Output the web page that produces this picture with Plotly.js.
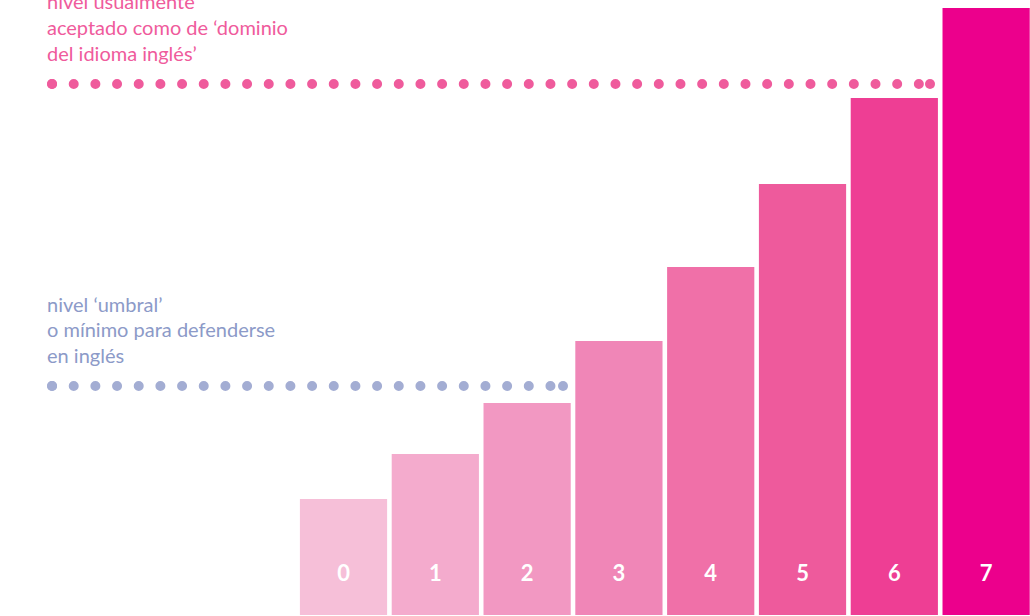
<!DOCTYPE html>
<html>
<head>
<meta charset="utf-8">
<script src="https://cdn.plot.ly/plotly-3.0.1.min.js"></script>
<style>
html,body{margin:0;padding:0;background:#fff;}
#chart{width:1030px;height:616px;}
.js-line{stroke-linecap:round;}
</style>
</head>
<body>
<div id="chart"></div>
<script>
// Categories (levels) and bar heights
const levels = [0, 1, 2, 3, 4, 5, 6, 7];
const levelLabels = ['0', '1', '2', '3', '4', '5', '6', '7'];
const heights = [116, 161, 212, 274, 348, 431, 517, 607];
const barColors = ['#F6BFD8', '#F4ABCD', '#F298C2', '#F086B7', '#F070A8', '#EE5A9C', '#EE3E94', '#EC008C'];

// Reference thresholds
const dominioLevel = 531;
const umbralLevel = 229;
const dominioX = [-3.175, 6.389];
const umbralX = [-3.175, 2.391];

// Texts
const dominioText = ['nivel usualmente', 'aceptado como de ‘dominio', 'del idioma inglés’'];
const umbralText = ['nivel ‘umbral’', 'o mínimo para defenderse', 'en inglés'];

const pink = '#EF5B9C';
const blue = '#A3ADD3';
const blueText = '#8C9AC8';

const labelY = 40;

const traces = [
  {
    type: 'bar', x: levels, y: heights, width: 0.95,
    marker: {color: barColors, line: {width: 0}},
    hoverinfo: 'skip', showlegend: false
  },
  {
    type: 'scatter', mode: 'text', x: levels, y: levels.map(() => labelY),
    text: levelLabels,
    textfont: {family: 'Lato, sans-serif', size: 22, color: '#ffffff', weight: 700},
    hoverinfo: 'skip', showlegend: false
  },
  {
    type: 'scatter', mode: 'lines+markers', x: dominioX, y: dominioX.map(() => dominioLevel),
    line: {color: pink, width: 10, dash: '0px,21.67px'},
    marker: {color: pink, size: 10},
    hoverinfo: 'skip', showlegend: false
  },
  {
    type: 'scatter', mode: 'lines+markers', x: umbralX, y: umbralX.map(() => umbralLevel),
    line: {color: blue, width: 10, dash: '0px,21.67px'},
    marker: {color: blue, size: 10},
    hoverinfo: 'skip', showlegend: false
  }
];

const dominioTextY = [614, 588, 562];
const umbralTextY = [311, 286, 260];
const annotations = [];
dominioText.forEach((t, i) => annotations.push({
  xref: 'paper', yref: 'y', x: 45 / 1030, y: dominioTextY[i], xanchor: 'left', yanchor: 'middle',
  text: t, showarrow: false, font: {family: 'Lato, sans-serif', size: 20, color: pink}
}));
umbralText.forEach((t, i) => annotations.push({
  xref: 'paper', yref: 'y', x: 45 / 1030, y: umbralTextY[i], xanchor: 'left', yanchor: 'middle',
  text: t, showarrow: false, font: {family: 'Lato, sans-serif', size: 20, color: blueText}
}));

const layout = {
  width: 1030, height: 616,
  margin: {l: 0, r: 0, t: 0, b: 1, pad: 0},
  paper_bgcolor: '#ffffff', plot_bgcolor: '#ffffff',
  xaxis: {range: [-3.742, 7.478], visible: false, fixedrange: true},
  yaxis: {range: [0, 615], visible: false, fixedrange: true},
  annotations: annotations,
  showlegend: false,
  hovermode: false
};

Plotly.newPlot('chart', traces, layout, {displayModeBar: false, staticPlot: true});
</script>
</body>
</html>
